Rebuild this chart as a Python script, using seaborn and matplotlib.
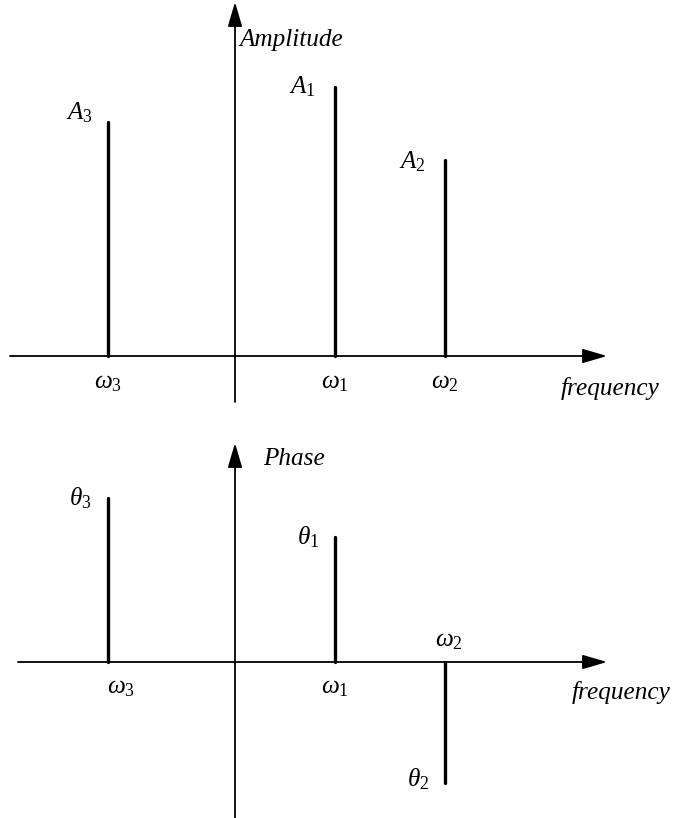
import matplotlib
matplotlib.use("Agg")
import matplotlib.pyplot as plt
import seaborn as sns
import pandas as pd

sns.set_theme(style="white")
plt.rcParams["font.family"] = ["Liberation Serif", "DejaVu Serif"]
plt.rcParams["text.color"] = "black"
plt.rcParams["mathtext.fontset"] = "custom"
plt.rcParams["mathtext.rm"] = "Liberation Serif"
plt.rcParams["mathtext.it"] = "Liberation Serif:italic"

# spectral lines: frequency positions and their amplitude / phase values
freq_labels = [r"$\omega_3$", r"$\omega_1$", r"$\omega_2$"]
freqs = [-1.27, 1.00, 2.10]
amplitudes = [2.34, 2.69, 1.96]
amp_labels = [r"$A_3$", r"$A_1$", r"$A_2$"]
phases = [1.64, 1.25, -1.21]
phase_labels = [r"$\theta_3$", r"$\theta_1$", r"$\theta_2$"]

FS = 18.2


def stem_frame(xs, ys):
    rows = []
    for i, (x, y) in enumerate(zip(xs, ys)):
        rows.append({"line": i, "x": x, "y": 0.0})
        rows.append({"line": i, "x": x, "y": y})
    return pd.DataFrame(rows)


def arrow(ax, start, tip):
    ax.annotate("", xy=tip, xytext=start,
                arrowprops=dict(arrowstyle="-|>,head_length=0.75,head_width=0.22",
                                mutation_scale=20, lw=1.3, color="black",
                                shrinkA=0, shrinkB=0))


fig = plt.figure(figsize=(6.79, 8.18), dpi=100)
ax_amp = fig.add_axes([0, 0.5, 1, 0.5])
ax_ph = fig.add_axes([0, 0.0, 1, 0.5])

for ax in (ax_amp, ax_ph):
    ax.set_xlim(-2.35, 4.44)
    ax.axis("off")
ax_amp.set_ylim(-0.53, 3.56)
ax_ph.set_ylim(-1.56, 2.53)

# amplitude spectrum
sns.lineplot(data=stem_frame(freqs, amplitudes), x="x", y="y", units="line",
             estimator=None, color="black", lw=2.4, ax=ax_amp, legend=False)
arrow(ax_amp, (-2.25, 0), (3.72, 0))
arrow(ax_amp, (0, -0.46), (0, 3.54))
ax_amp.text(0.04, 3.16, "Amplitude", style="italic", fontsize=FS, ha="left", va="center")
ax_amp.text(3.26, -0.32, "frequency", style="italic", fontsize=FS, ha="left", va="center")
amp_offsets = [(-0.29, 0.09), (-0.33, 0.0), (-0.33, -0.02)]
for x, y, lab, (dx, dy) in zip(freqs, amplitudes, amp_labels, amp_offsets):
    ax_amp.text(x + dx, y + dy, lab, fontsize=FS, ha="center", va="center")
for x, lab in zip(freqs, freq_labels):
    ax_amp.text(x, -0.27, lab, fontsize=FS, ha="center", va="center")

# phase spectrum
sns.lineplot(data=stem_frame(freqs, phases), x="x", y="y", units="line",
             estimator=None, color="black", lw=2.4, ax=ax_ph, legend=False)
arrow(ax_ph, (-2.17, 0), (3.72, 0))
arrow(ax_ph, (0, -1.56), (0, 2.19))
ax_ph.text(0.28, 2.03, "Phase", style="italic", fontsize=FS, ha="left", va="center")
ax_ph.text(3.37, -0.30, "frequency", style="italic", fontsize=FS, ha="left", va="center")
ph_offsets = [(-0.28, 0.0), (-0.27, 0.0), (-0.27, 0.04)]
for x, y, lab, (dx, dy) in zip(freqs, phases, phase_labels, ph_offsets):
    ax_ph.text(x + dx, y + dy, lab, fontsize=FS, ha="center", va="center")
bottom_freq_pos = [(-1.14, -0.26), (1.00, -0.26), (2.14, 0.21)]
for (x, y), lab in zip(bottom_freq_pos, freq_labels):
    ax_ph.text(x, y, lab, fontsize=FS, ha="center", va="center")

fig.savefig("out.png", dpi=100, facecolor="white")
